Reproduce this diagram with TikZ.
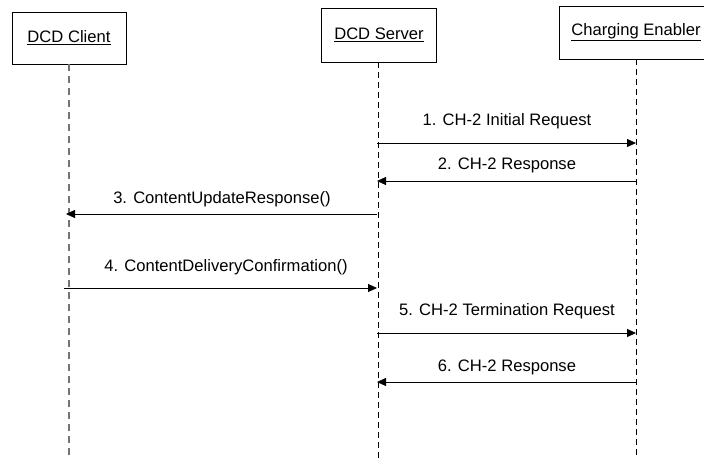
\documentclass[tikz,border=0pt]{standalone}
\usepackage{fontspec}
\setmainfont{Liberation Sans}
\usetikzlibrary{arrows.meta}
\begin{document}
\begin{tikzpicture}[x=1pt,y=-1pt,
  every node/.style={font=\fontsize{16.6}{19}\selectfont},
  actor/.style={draw=black, line width=0.8pt, fill=white, inner sep=0pt},
  lifeline/.style={dash pattern=on 6pt off 4pt, line width=0.8pt, draw=black},
  clifeline/.style={dash pattern=on 7pt off 5pt, line width=1.2pt, draw=black!55},
  msg/.style={draw=black, line width=0.8pt, -{Triangle[length=9pt,width=8pt]}},
  lbl/.style={inner sep=0pt}]
\useasboundingbox (0,0) rectangle (704,458);
\clip (0,0) rectangle (704,458);
% actors
\node[actor, minimum width=114pt, minimum height=52pt] (client) at (69,38) {\underline{DCD Client}};
\node[actor, minimum width=115pt, minimum height=54pt] (server) at (379,35) {\underline{DCD Server}};
\node[actor, minimum width=154pt, minimum height=53pt] (charger) at (636,32.5) {\underline{Charging Enabler}};
% lifeline ends
\coordinate (cend) at (69,460);
\coordinate (send) at (378,460);
\coordinate (eend) at (636,460);
\draw[clifeline] (client.south -| cend) -- (cend);
\draw[lifeline] (server.south -| send) -- (send);
\draw[lifeline] (charger.south -| eend) -- (eend);
% message endpoints
\coordinate (s1) at (377,143); \coordinate (e1) at (636,143);
\coordinate (s2) at (377,181); \coordinate (e2) at (636,181);
\coordinate (s3) at (377,214); \coordinate (c3) at (66,214);
\coordinate (s4) at (377,288); \coordinate (c4) at (64,288);
\coordinate (s5) at (377,333); \coordinate (e5) at (636,333);
\coordinate (s6) at (377,382); \coordinate (e6) at (636,382);
% messages
\draw[msg] (s1) -- (e1);
\draw[msg] (e2) -- (s2);
\draw[msg] (s3) -- (c3);
\draw[msg] (c4) -- (s4);
\draw[msg] (s5) -- (e5);
\draw[msg] (e6) -- (s6);
% labels
\node[lbl] (l1) at (507,121) {1. CH-2 Initial Request};
\node[lbl] (l2) at (507,165) {2. CH-2 Response};
\node[lbl] (l3) at (222,199) {3. ContentUpdateResponse()};
\node[lbl] (l4) at (226,267) {4. ContentDeliveryConfirmation()};
\node[lbl] (l5) at (507,311) {5. CH-2 Termination Request};
\node[lbl] (l6) at (507,367) {6. CH-2 Response};
\end{tikzpicture}
\end{document}
